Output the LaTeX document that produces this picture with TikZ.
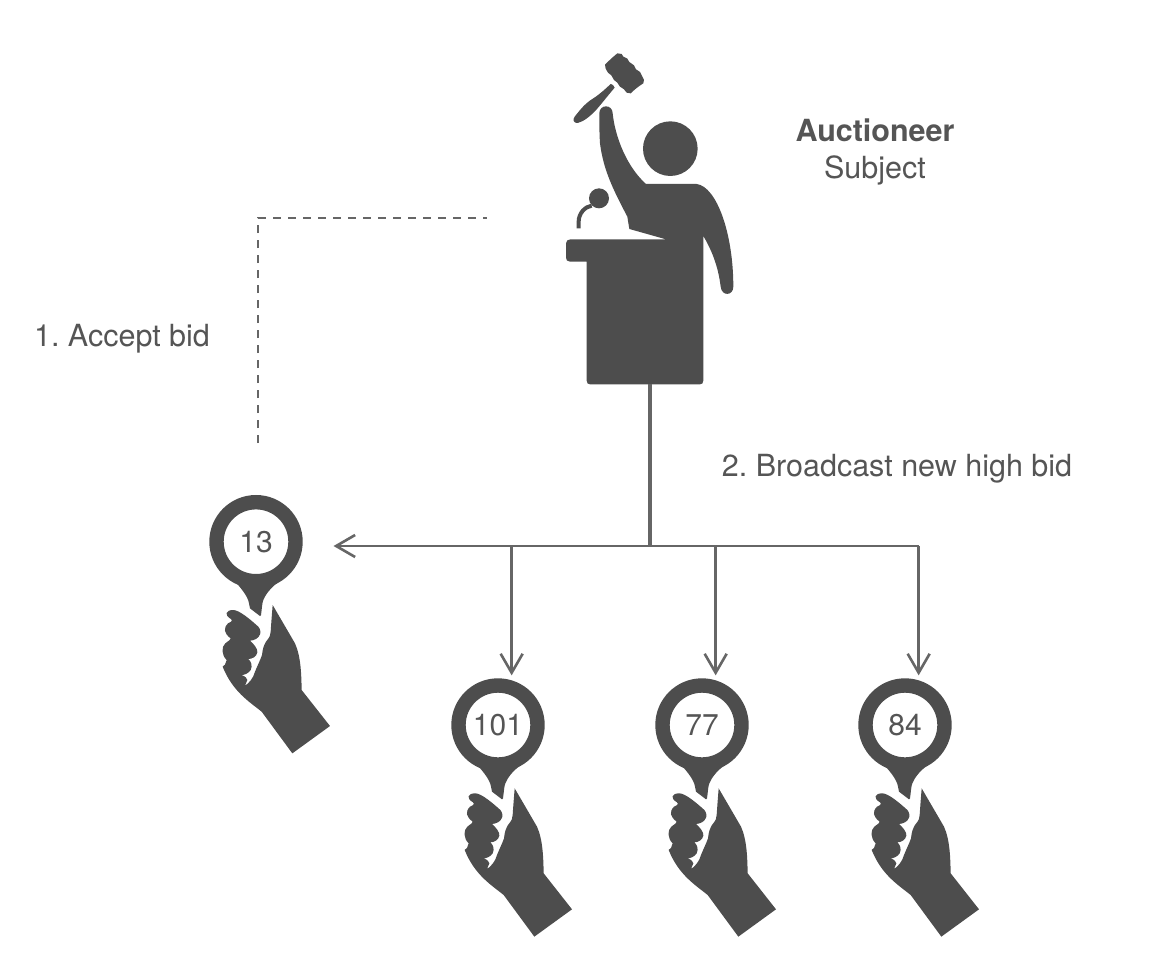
\documentclass[tikz,border=0pt]{standalone}
\usepackage{fontspec}
\setmainfont{TeX Gyre Heros}
\frenchspacing
\usetikzlibrary{arrows.meta,calc}
\definecolor{ink}{HTML}{4D4D4D}
\definecolor{wire}{HTML}{666666}
\definecolor{txt}{HTML}{555555}
\tikzset{
  lbl/.style={anchor=base,text=txt,font=\fontsize{30.5}{32}\selectfont,inner sep=0pt},
  tag/.style={circle,fill=white,draw=ink,line width=14.4pt,minimum size=79pt,inner sep=0pt,text=txt,font=\fontsize{30}{30}\selectfont},
  wireline/.style={draw=wire,line width=2.6pt},
  tip/.style={-{Straight Barb[length=19pt,width=22pt,line width=2.6pt]},shorten >=5pt}
}
\newcommand{\paddle}[4]{%
  \begin{scope}[shift={(#2,#3)},x=0.3333pt,y=-0.3333pt]
    % stem
    \fill[ink] (-70,110)
      .. controls (-50,135) and (-25,160) .. (-21,185)
      -- (-18,200) -- (12,223) -- (15,220)
      .. controls (18,200) and (18,185) .. (22,175)
      .. controls (28,160) and (42,140) .. (66,122) -- cycle;
    % hand
    \fill[ink] (50,190) -- (117,305)
      .. controls (135,345) and (136,400) .. (137,445)
      -- (222,553) -- (109,635) -- (17,510)
      .. controls (-20,480) and (-70,450) .. (-100,375)
      .. controls (-85,365) and (-95,360) .. (-88,355)
      .. controls (-104,340) and (-104,315) .. (-92,305)
      .. controls (-80,295) and (-76,295) .. (-76,290)
      .. controls (-96,275) and (-99,260) .. (-84,245)
      .. controls (-70,240) and (-70,232) .. (-75,232)
      .. controls (-96,220) and (-92,205) .. (-68,205)
      .. controls (-50,205) and (-15,235) .. (7,255)
      .. controls (14,262) and (14,275) .. (12,278)
      .. controls (8,290) and (-5,296) .. (-18,297)
      .. controls (-8,305) and (6,322) .. (4,332)
      .. controls (2,345) and (-12,352) .. (-23,352)
      .. controls (-14,360) and (-10,372) .. (-16,385)
      .. controls (-22,395) and (-35,400) .. (-43,400)
      .. controls (-30,405) and (-28,410) .. (-26,415)
      -- (-33,432)
      .. controls (-22,425) and (-8,410) .. (-3,390)
      .. controls (5,370) and (13,355) .. (18,340)
      .. controls (20,320) and (24,310) .. (30,300)
      .. controls (42,285) and (44,280) .. (44,270)
      .. controls (46,240) and (48,215) .. (50,190) -- cycle;
  \end{scope}
  \node[tag] (#1) at (#2,#3) {#4};%
}
\begin{document}
\begin{tikzpicture}[x=1pt,y=-1pt]
\useasboundingbox (0,0) rectangle (1174,966);
\fill[white] (0,0) rectangle (1174,966);

% auctioneer figure
\begin{scope}[shift={(540,30)},x=0.3333pt,y=-0.3333pt]
  % head
  \fill[ink] (391,356) circle (82pt*0.3333);
  % gavel head
  \fill[ink] (232,70) -- (245,72) -- (250,80) -- (262,86) -- (268,96) -- (282,106) -- (288,118)
    -- (300,126) -- (305,136) -- (312,150) -- (310,160) -- (298,168) -- (285,178) -- (272,190) -- (260,188)
    -- (252,178) -- (240,170) -- (232,158) -- (222,150) -- (214,136) -- (204,128) -- (197,116) -- (195,104)
    -- (205,94) -- (218,82) -- cycle;
  % gavel handle
  \fill[ink] (212,162) .. controls (216,160) and (222,168) .. (224,173)
    .. controls (205,195) and (190,215) .. (170,238)
    .. controls (150,260) and (130,275) .. (113,279)
    .. controls (102,280) and (96,270) .. (104,260)
    .. controls (120,240) and (135,220) .. (160,205)
    .. controls (180,192) and (195,178) .. (212,162) -- cycle;
  % microphone
  \fill[ink] (177,505) circle (30pt*0.3333);
  \draw[ink,line width=4pt] (116,595) -- (116,575) .. controls (116,550) and (135,530) .. (155,527);
  % body, arms and lectern
  \fill[ink] (92,628) -- (378,628) -- (268,597) -- (262,560)
    .. controls (220,480) and (190,420) .. (180,340)
    .. controls (178,310) and (178,280) .. (178,250)
    .. controls (178,222) and (218,222) .. (218,250)
    .. controls (225,320) and (260,410) .. (318,462)
    -- (470,462)
    .. controls (530,470) and (580,610) .. (580,770)
    .. controls (580,798) and (545,800) .. (542,770)
    .. controls (535,710) and (515,660) .. (490,618)
    -- (490,1052) .. controls (490,1060) and (486,1063) .. (480,1063)
    -- (150,1063) .. controls (144,1063) and (140,1060) .. (140,1052)
    -- (140,695) -- (90,695) .. controls (82,695) and (78,690) .. (78,683)
    -- (78,640) .. controls (78,632) and (84,628) .. (92,628) -- cycle;
\end{scope}
\coordinate (podium) at (650,384);
\coordinate (bus) at (650,546);

% paddles
\paddle{p13}{256}{541.7}{13}
\paddle{p101}{498}{725}{101}
\paddle{p77}{702}{725}{77}
\paddle{p84}{905}{725}{84}

% broadcast connectors
\draw[wireline,line width=3.2pt] (podium) -- (bus);
\draw[wireline,tip,shorten >=31pt] (bus) -- (bus -| p13.-5);
\draw[wireline,tip] (bus -| p101.73) -- (p101.73);
\draw[wireline,tip] (bus -| p77.73) -- (p77.73);
\draw[wireline,tip] (bus -| p84.73) -- (p84.73);
\draw[wireline] (bus -| p84.73) -- (bus);

% accept bid
\coordinate (acceptstart) at (258,443);
\coordinate (acceptcorner) at (258,218);
\coordinate (acceptend) at (487,218);
\draw[draw=wire,line width=2.8pt,dash pattern=on 8pt off 7pt] (acceptstart) -- (acceptcorner) -- (acceptend);

% labels
\node[lbl] (accept) at (122,346) {1. Accept bid};
\node[lbl] (broadcast) at (897,476) {2. Broadcast new high bid};
\node[lbl,font=\fontsize{30.5}{32}\selectfont\bfseries] (auct) at (875,141) {Auctioneer};
\node[lbl] (subj) at (875,178) {Subject};
\end{tikzpicture}
\end{document}
